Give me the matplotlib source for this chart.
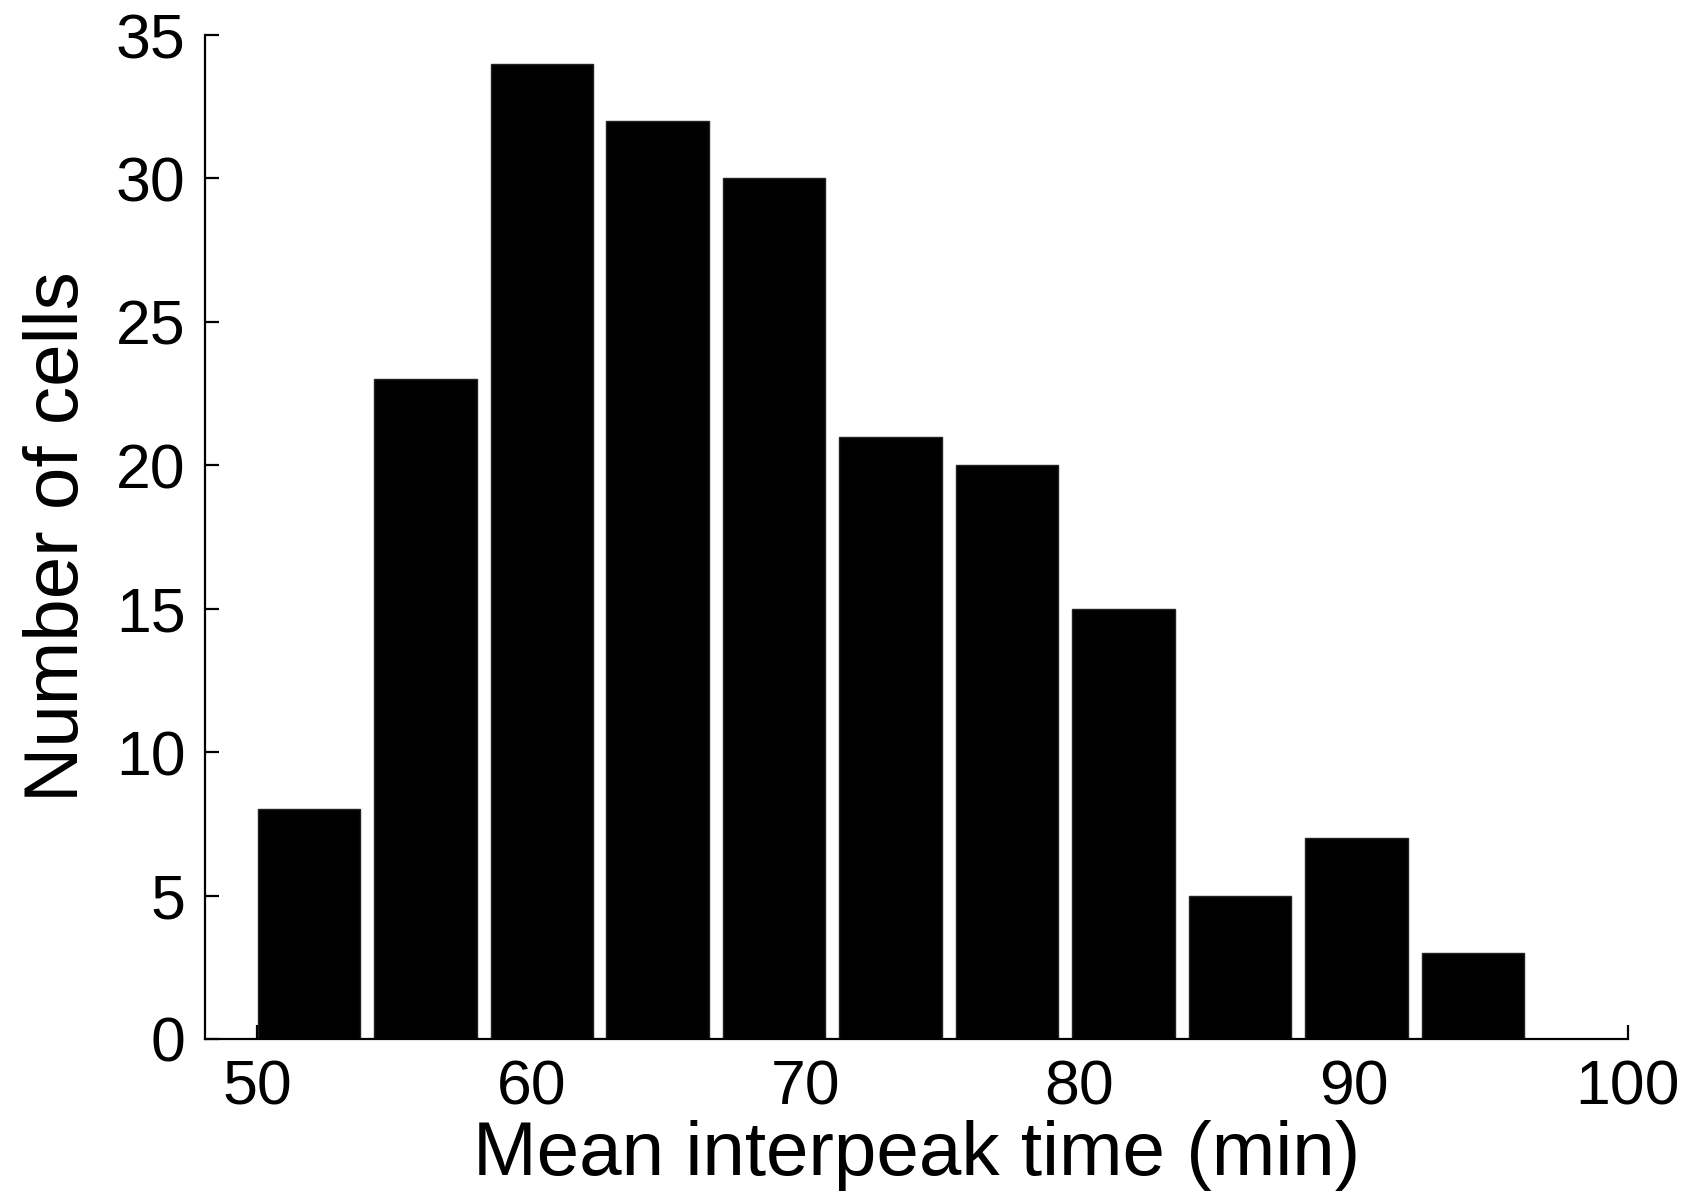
import numpy as np
import matplotlib.pyplot as plt

#----------------------------------------------------
# data
#----------------------------------------------------
bin_centers = [51.9, 56.15, 60.4, 64.6, 68.85, 73.1, 77.35, 81.6, 85.85, 90.1, 94.35]
cell_counts = [8, 23, 34, 32, 30, 21, 20, 15, 5, 7, 3]
x_ticks = [50, 60, 70, 80, 90, 100]
y_ticks = [0, 5, 10, 15, 20, 25, 30, 35]

plt.rcParams['font.family'] = ['Liberation Sans', 'DejaVu Sans']

fig = plt.figure(figsize=(16.87, 11.92), dpi=100)
ax = fig.add_axes([0.1215, 0.1284, 0.8435, 0.8422])

bin_width = np.diff(bin_centers).mean() * 0.88
ax.bar(bin_centers, cell_counts, width=bin_width, color='black',
       edgecolor='#222222', linewidth=1)

ax.set_xlim(48.1, 100)
ax.set_ylim(0, 35)
ax.set_xticks(x_ticks)
ax.set_yticks(y_ticks)

for side in ['top', 'right']:
    ax.spines[side].set_visible(False)
for side in ['left', 'bottom']:
    ax.spines[side].set_linewidth(1.6)

ax.tick_params(direction='in', length=10, width=1.6, labelsize=45, pad=14)
ax.set_xlabel('Mean interpeak time (min)', fontsize=55, labelpad=2)
ax.set_ylabel('Number of cells', fontsize=55, labelpad=16)

fig.savefig('out.png', dpi=100)
